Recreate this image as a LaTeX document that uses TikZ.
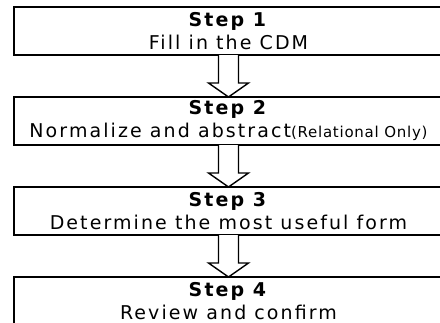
\documentclass[tikz,border=0pt]{standalone}
\usepackage{fontspec}
\setmainfont{DejaVu Sans}[LetterSpace=11]
\newfontfamily\notefont{DejaVu Sans}[LetterSpace=5]
\usetikzlibrary{calc, positioning}
\tikzset{
stepbox/.style={draw, line width=1.6pt, minimum width=429pt, minimum height=48pt,
  inner sep=0pt, outer sep=0pt, align=center, font=\fontsize{19}{23}\selectfont}, % one box per step
hollow/.style={draw, line width=1.4pt, fill=white}, % open block arrow
}

\begin{document}
\begin{tikzpicture}[x=1pt, y=1pt, node distance=42pt]
  \useasboundingbox (0,0) rectangle (440,-322);
  \clip (0,0) rectangle (440,-322);

  \node[stepbox, anchor=north west] (s1) at (14,-7) {\textbf{Step 1}\\Fill in the CDM};
  \node[stepbox, below=of s1] (s2) {\textbf{Step 2}\\Normalize and abstract{\notefont\fontsize{15}{23}\selectfont(Relational Only)}};
  \node[stepbox, below=of s2] (s3) {\textbf{Step 3}\\Determine the most useful form};
  \node[stepbox, below=of s3] (s4) {\textbf{Step 4}\\Review and confirm};

  % arrows between the steps
  \foreach \a/\b in {s1/s2, s2/s3, s3/s4}
    \draw[hollow] ($(\a.south)+(-10,0)$) -- ($(\b.north)+(-10,14)$) -- ($(\b.north)+(-20,14)$)
      -- (\b.north) -- ($(\b.north)+(20,14)$) -- ($(\b.north)+(10,14)$) -- ($(\a.south)+(10,0)$);
\end{tikzpicture}
\end{document}
